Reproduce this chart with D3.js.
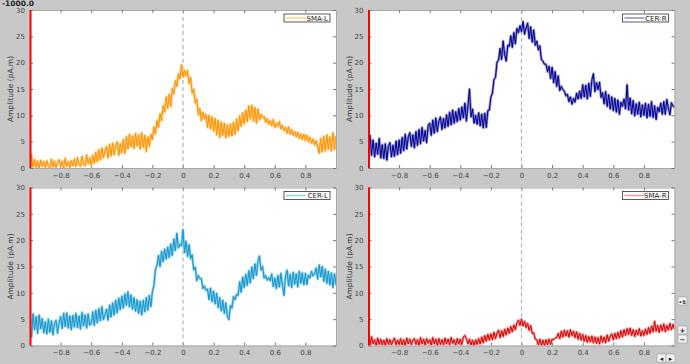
<!DOCTYPE html>
<html>
<head>
<meta charset="utf-8">
<script src="https://cdn.jsdelivr.net/npm/d3@7"></script>
<style>
  html, body { margin: 0; padding: 0; background: #c8c8c8; }
  svg { display: block; font-family: "DejaVu Sans", sans-serif; }
</style>
</head>
<body>
<svg width="690" height="364"></svg>
<script>
// sample times in seconds, one every 10 ms
const times = d3.range(-100, 101).map(i => i / 100);

const smaL = [
  1.2, 2.4, 0.2, 1.6, 0.1, 1.3, 0.0, 1.5, 0.3, 1.2,
  0.1, 1.4, 0.3, 0.0, 1.7, 0.2, 1.3, 0.1, 1.0, 1.6,
  0.2, 1.3, 0.0, 1.8, 0.3, 1.2, 0.1, 1.4, 0.4, 1.7,
  0.3, 2.0, 0.6, 0.3, 2.2, 0.7, 0.4, 2.5, 0.8, 1.9,
  0.5, 2.4, 0.9, 3.0, 1.2, 3.5, 1.5, 3.8, 1.9, 3.3,
  4.1, 1.9, 4.5, 2.3, 4.7, 2.5, 4.2, 5.0, 2.4, 4.6,
  2.9, 5.4, 2.8, 6.0, 3.6, 6.4, 4.0, 6.1, 3.7, 6.6,
  4.2, 6.3, 3.6, 6.7, 3.9, 6.2, 3.1, 5.9, 4.1, 6.4,
  5.4, 7.8, 6.5, 9.0, 7.7, 10.3, 9.0, 11.8, 10.6, 13.5,
  11.3, 14.0, 11.7, 15.1, 14.1, 16.6, 15.5, 17.9, 16.9, 19.6,
  17.3, 18.6, 17.5, 18.5, 16.0, 17.2, 14.2, 15.0, 12.3, 13.1,
  10.1, 11.3, 9.0, 10.6, 9.3, 10.2, 7.7, 10.0, 7.4, 9.7,
  7.0, 9.4, 6.3, 9.1, 5.8, 8.7, 6.2, 8.5, 5.7, 8.2,
  6.0, 8.4, 6.1, 8.7, 6.4, 9.3, 7.1, 9.9, 7.9, 10.5,
  8.4, 11.0, 8.8, 11.8, 9.3, 11.9, 8.9, 11.5, 8.5, 11.2,
  9.1, 10.2, 9.5, 9.8, 8.7, 9.4, 8.3, 9.0, 8.0, 9.2,
  7.7, 8.5, 7.9, 8.8, 7.4, 8.1, 7.1, 7.7, 6.6, 7.8,
  6.4, 7.3, 6.2, 6.9, 5.9, 6.8, 5.6, 6.5, 5.4, 6.4,
  5.2, 6.2, 5.0, 5.8, 4.7, 5.5, 4.4, 5.2, 4.0, 2.8,
  5.6, 3.0, 6.0, 3.3, 6.3, 3.6, 5.9, 3.2, 6.7, 3.5,
  6.1
];

const cerR = [
  4.9, 6.2, 2.4, 5.3, 2.1, 4.7, 2.6, 5.6, 1.9, 4.4,
  1.8, 4.6, 1.5, 4.1, 4.8, 2.1, 4.3, 2.2, 5.1, 2.5,
  5.3, 2.8, 5.8, 3.3, 6.4, 3.6, 5.9, 6.7, 4.1, 6.3,
  3.8, 6.9, 4.3, 7.3, 4.6, 7.7, 5.1, 7.1, 4.8, 8.1,
  8.5, 6.2, 9.1, 6.6, 9.5, 6.9, 8.9, 9.7, 7.3, 9.4,
  7.6, 10.1, 7.9, 10.6, 8.2, 11.0, 8.5, 10.7, 8.8, 11.3,
  9.1, 11.6, 9.5, 12.3, 8.9, 11.8, 15.0, 9.7, 11.2, 8.5,
  10.0, 8.3, 10.5, 8.0, 10.2, 7.6, 10.4, 7.7, 10.9, 11.0,
  13.5, 14.2, 16.8, 17.2, 20.1, 20.5, 22.7, 20.6, 24.1, 21.5,
  20.3, 23.3, 23.1, 25.1, 22.9, 25.7, 23.6, 26.5, 25.7, 27.0,
  25.9, 27.8, 25.4, 26.6, 27.5, 24.6, 26.8, 23.9, 26.2, 23.3,
  24.1, 22.4, 23.2, 20.6, 20.3, 19.7, 19.7, 18.3, 19.3, 17.0,
  19.1, 16.2, 18.3, 15.5, 17.5, 14.7, 15.5, 14.9, 14.6, 13.7,
  14.0, 12.6, 13.5, 12.1, 13.2, 12.5, 14.2, 13.1, 14.6, 13.2,
  15.8, 13.5, 15.7, 13.1, 16.1, 13.6, 16.7, 17.9, 14.5, 16.2,
  14.9, 16.3, 13.4, 14.3, 12.2, 14.5, 11.7, 13.9, 11.2, 13.5,
  10.9, 13.2, 10.6, 12.9, 10.2, 12.5, 11.7, 13.1, 11.2, 15.8,
  11.0, 13.3, 10.3, 12.8, 9.9, 12.2, 10.2, 12.5, 9.7, 12.0,
  10.0, 12.3, 9.5, 12.1, 9.8, 12.6, 9.6, 11.8, 9.2, 11.5,
  10.7, 12.3, 10.2, 12.6, 10.2, 13.0, 11.3, 10.1, 12.4, 11.8,
  11.5
];

const cerL = [
  5.3, 1.6, 6.0, 3.0, 5.5, 2.3, 5.8, 3.2, 5.1, 2.4,
  4.5, 2.2, 5.0, 2.5, 4.7, 2.0, 4.2, 4.8, 2.3, 4.3,
  5.5, 3.2, 6.1, 3.6, 6.2, 3.3, 5.6, 3.0, 5.7, 3.5,
  6.1, 3.4, 5.6, 3.1, 6.3, 3.7, 5.8, 3.3, 6.0, 3.9,
  4.1, 6.4, 3.8, 6.7, 4.3, 7.0, 4.7, 7.4, 4.9, 5.9,
  6.9, 4.8, 7.7, 5.4, 8.1, 5.8, 8.6, 6.2, 9.0, 6.8,
  9.4, 7.1, 9.8, 7.6, 10.2, 7.3, 9.6, 6.9, 9.1, 6.5,
  8.7, 6.1, 8.4, 5.8, 8.6, 6.4, 9.1, 6.7, 9.5, 7.4,
  10.2, 11.4, 14.5, 15.2, 17.1, 15.0, 17.9, 15.9, 18.3, 16.4,
  18.7, 16.7, 19.3, 17.1, 20.2, 18.0, 21.3, 18.5, 19.2, 18.9,
  22.0, 17.6, 19.8, 16.9, 19.1, 16.5, 17.2, 14.4, 14.9, 12.3,
  13.3, 12.7, 12.7, 10.8, 11.3, 10.5, 10.7, 8.7, 10.9, 8.3,
  10.3, 7.9, 9.9, 7.2, 9.1, 6.6, 8.6, 6.1, 8.1, 5.5,
  4.9, 7.6, 7.1, 9.3, 8.7, 9.7, 9.5, 12.1, 10.1, 13.0,
  11.0, 13.5, 11.4, 14.2, 11.9, 14.9, 12.7, 15.5, 13.3, 16.0,
  17.0, 14.3, 15.0, 12.8, 13.3, 12.4, 12.9, 12.3, 13.6, 11.2,
  12.8, 10.8, 13.3, 11.1, 13.7, 11.5, 9.5, 13.2, 14.3, 11.3,
  13.5, 11.0, 13.9, 11.6, 13.6, 11.1, 14.1, 11.8, 13.8, 11.5,
  13.7, 11.6, 13.4, 12.8, 14.1, 13.2, 13.6, 14.7, 12.6, 15.3,
  13.0, 15.0, 12.2, 14.5, 11.8, 14.1, 11.5, 13.8, 11.0, 13.6,
  11.5
];

const smaR = [
  1.3, 0.1, 1.7, 0.3, 1.1, 0.0, 1.4, 0.2, 1.2, 0.1,
  1.0, 0.0, 1.3, 0.2, 1.1, 0.1, 0.9, 1.4, 0.1, 1.0,
  0.2, 1.3, 0.1, 1.1, 0.0, 1.4, 0.3, 1.2, 0.1, 1.0,
  1.3, 0.2, 1.1, 0.0, 1.5, 0.3, 1.2, 0.1, 1.3, 0.4,
  1.1, 0.1, 1.5, 0.3, 1.2, 0.0, 1.3, 0.2, 1.1, 0.1,
  1.4, 0.3, 1.2, 0.1, 1.5, 0.4, 1.1, 0.1, 1.3, 0.3,
  1.2, 0.2, 1.6, 1.9, 1.3, 0.3, 1.2, 0.1, 1.0, 0.0,
  1.1, 0.2, 1.3, 0.3, 1.6, 0.5, 1.9, 0.8, 2.1, 1.0,
  2.2, 1.1, 2.5, 1.3, 2.4, 2.9, 1.5, 2.8, 1.7, 3.1,
  2.0, 3.3, 2.3, 3.6, 2.6, 3.9, 3.0, 4.3, 4.8, 3.8,
  5.0, 3.7, 4.6, 3.4, 4.2, 2.9, 3.8, 2.3, 2.4, 1.2,
  1.1, 0.1, 1.2, 0.0, 1.0, 0.0, 1.1, 0.1, 1.2, 0.2,
  1.2, 1.1, 1.4, 1.5, 2.3, 1.3, 2.7, 1.6, 2.9, 1.8,
  2.8, 1.6, 3.0, 1.9, 2.7, 1.5, 2.6, 1.2, 2.3, 1.0,
  2.1, 0.8, 1.9, 0.6, 1.7, 0.7, 1.8, 0.5, 1.6, 0.4,
  1.5, 0.3, 1.8, 0.6, 1.6, 0.5, 2.0, 0.8, 1.8, 2.2,
  1.1, 2.3, 1.3, 2.5, 1.4, 2.8, 1.6, 3.0, 1.9, 3.2,
  2.1, 3.3, 1.9, 3.0, 1.7, 2.9, 2.0, 3.2, 1.8, 2.8,
  1.9, 3.1, 2.1, 3.4, 2.3, 3.7, 2.6, 4.6, 2.7, 3.8,
  2.5, 3.9, 2.8, 4.1, 2.6, 3.8, 2.9, 4.2, 3.0, 4.0,
  3.1
];

const seriesNames = ["SMA-L", "CER-R", "CER-L", "SMA-R"];
const seriesValues = [smaL, cerR, cerL, smaR];
const seriesColors = ["#ff9200", "#00008f", "#1496cc", "#d80000"];
const haloColors = ["#ffcf8a", "#8a8ad0", "#8fd0ea", "#f29a9a"];
const xTicks = [-0.8, -0.6, -0.4, -0.2, 0, 0.2, 0.4, 0.6, 0.8];
const yTicks = [0, 5, 10, 15, 20, 25, 30];
const cursorTime = -1.0;
const cursorLabel = "-1000.0";
const yLabel = "Amplitude (pA.m)";

const svg = d3.select("svg");
const W = 306, H = 158;
const colX = [30, 368.5], rowY = [10, 187.5];

svg.append("rect").attr("width", 690).attr("height", 364).attr("fill", "#c8c8c8");

const x = d3.scaleLinear().domain([-1, 1]).range([0, W]);
const y = d3.scaleLinear().domain([0, 30]).range([H, 0]);

const line = d3.line().x((d, i) => x(times[i])).y(d => y(d));

seriesNames.forEach((name, k) => {
  const g = svg.append("g")
    .attr("transform", `translate(${colX[k % 2]},${rowY[Math.floor(k / 2)]})`);

  g.append("rect").attr("width", W).attr("height", H).attr("fill", "#fff");

  g.append("clipPath").attr("id", "clip" + k)
    .append("rect").attr("width", W).attr("height", H);

  const axes = [
    [d3.axisBottom(x).tickValues(xTicks).tickFormat(d3.format("")), `translate(0,${H})`, true],
    [d3.axisTop(x).tickValues(xTicks), "", false],
    [d3.axisLeft(y).tickValues(yTicks), "", true],
    [d3.axisRight(y).tickValues(yTicks), `translate(${W},0)`, false]
  ];
  axes.forEach(([ax, tr, labels]) => {
    const a = g.append("g").attr("transform", tr)
      .call(ax.tickSizeInner(-3).tickSizeOuter(0).tickPadding(labels ? 5 : 0));
    a.select(".domain").attr("stroke", "#a8a8a8");
    a.selectAll(".tick line").attr("stroke", "#777");
    a.selectAll("text").attr("fill", labels ? "#444" : "none")
      .attr("font-size", 7).attr("font-family", "DejaVu Sans, sans-serif");
  });

  // zero line
  g.append("line")
    .attr("x1", x(0)).attr("x2", x(0)).attr("y1", 0).attr("y2", H)
    .attr("stroke", "#b4b4b4").attr("stroke-width", 1.2).attr("stroke-dasharray", "4,3");

  const lg = g.append("g").attr("clip-path", `url(#clip${k})`);
  lg.append("path").datum(seriesValues[k]).attr("d", line)
    .attr("fill", "none").attr("stroke", haloColors[k]).attr("stroke-width", 2.6)
    .attr("stroke-linejoin", "round");
  lg.append("path").datum(seriesValues[k]).attr("d", line)
    .attr("fill", "none").attr("stroke", seriesColors[k]).attr("stroke-width", 1);

  // time cursor
  g.append("line")
    .attr("x1", x(cursorTime) + 0.5).attr("x2", x(cursorTime) + 0.5)
    .attr("y1", 0).attr("y2", H)
    .attr("stroke", "#ff0000").attr("stroke-width", 2);

  // y label
  g.append("text")
    .attr("transform", `translate(${-17},${H / 2}) rotate(-90)`)
    .attr("text-anchor", "middle").attr("font-size", 7.5).attr("fill", "#333")
    .text(yLabel);

  // legend
  const leg = g.append("g").attr("transform", `translate(${W - 52},4)`);
  leg.append("rect").attr("width", 46).attr("height", 8)
    .attr("fill", "#fff").attr("stroke", "#333").attr("stroke-width", 0.8);
  leg.append("line").attr("x1", 2).attr("x2", 22).attr("y1", 4).attr("y2", 4)
    .attr("stroke", haloColors[k]).attr("stroke-width", 1.5);
  leg.append("text").attr("x", 44).attr("y", 6.7).attr("text-anchor", "end")
    .attr("font-size", 7).attr("fill", "#222").text(name);
});

svg.append("text").attr("x", 2).attr("y", 6)
  .attr("font-size", 7.5).attr("font-weight", "bold").attr("fill", "#222")
  .text(cursorLabel);

// small figure buttons at the right
const buttons = [
  {x: 678, y: 297, w: 9, h: 8, t: "•⇅"},
  {x: 678, y: 326, w: 9, h: 8, t: "+"},
  {x: 678, y: 335, w: 9, h: 8, t: "−"},
  {x: 657, y: 354, w: 9, h: 8, t: "◂"},
  {x: 666, y: 354, w: 9, h: 8, t: "▸"}
];
const bg = svg.append("g");
bg.selectAll("rect").data(buttons).join("rect")
  .attr("x", d => d.x).attr("y", d => d.y).attr("width", d => d.w).attr("height", d => d.h)
  .attr("fill", "#f2f2f2").attr("stroke", "#999").attr("stroke-width", 0.6);
bg.selectAll("text").data(buttons).join("text")
  .attr("x", d => d.x + d.w / 2).attr("y", d => d.y + d.h - 1.5)
  .attr("text-anchor", "middle").attr("font-size", d => d.t === "•⇅" ? 5 : 7)
  .attr("font-weight", "bold").attr("fill", "#222").text(d => d.t);
</script>
</body>
</html>
